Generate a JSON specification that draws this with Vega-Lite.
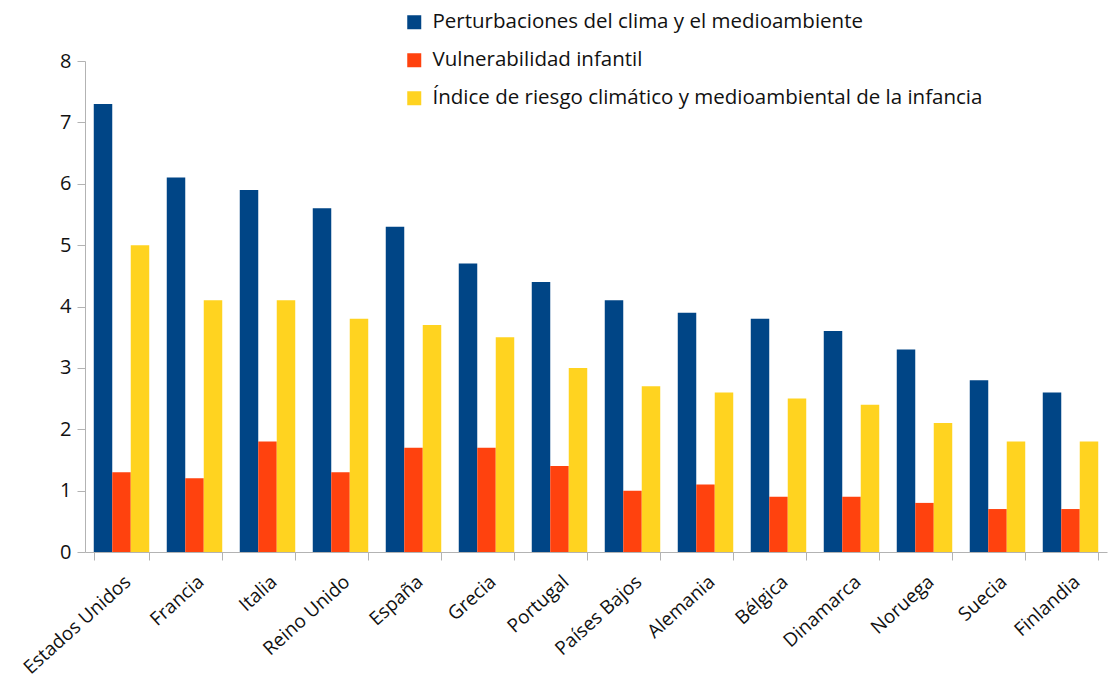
{
  "$schema": "https://vega.github.io/schema/vega-lite/v6.json",
  "width": 1022,
  "height": 491,
  "autosize": "none",
  "padding": {"left": 85, "top": 61, "right": 4, "bottom": 132},
  "background": "white",
  "config": {
    "font": "Open Sans",
    "view": {"stroke": null},
    "axis": {"grid": false, "domainColor": "#b3b3b3", "tickColor": "#b3b3b3", "labelColor": "#111", "labelFont": "Open Sans"}
  },
  "data": {
    "values": [
      {"pais": "Estados Unidos", "serie": "Perturbaciones del clima y el medioambiente", "valor": 7.3},
      {"pais": "Estados Unidos", "serie": "Vulnerabilidad infantil", "valor": 1.3},
      {"pais": "Estados Unidos", "serie": "Índice de riesgo climático y medioambiental de la infancia", "valor": 5.0},
      {"pais": "Francia", "serie": "Perturbaciones del clima y el medioambiente", "valor": 6.1},
      {"pais": "Francia", "serie": "Vulnerabilidad infantil", "valor": 1.2},
      {"pais": "Francia", "serie": "Índice de riesgo climático y medioambiental de la infancia", "valor": 4.1},
      {"pais": "Italia", "serie": "Perturbaciones del clima y el medioambiente", "valor": 5.9},
      {"pais": "Italia", "serie": "Vulnerabilidad infantil", "valor": 1.8},
      {"pais": "Italia", "serie": "Índice de riesgo climático y medioambiental de la infancia", "valor": 4.1},
      {"pais": "Reino Unido", "serie": "Perturbaciones del clima y el medioambiente", "valor": 5.6},
      {"pais": "Reino Unido", "serie": "Vulnerabilidad infantil", "valor": 1.3},
      {"pais": "Reino Unido", "serie": "Índice de riesgo climático y medioambiental de la infancia", "valor": 3.8},
      {"pais": "España", "serie": "Perturbaciones del clima y el medioambiente", "valor": 5.3},
      {"pais": "España", "serie": "Vulnerabilidad infantil", "valor": 1.7},
      {"pais": "España", "serie": "Índice de riesgo climático y medioambiental de la infancia", "valor": 3.7},
      {"pais": "Grecia", "serie": "Perturbaciones del clima y el medioambiente", "valor": 4.7},
      {"pais": "Grecia", "serie": "Vulnerabilidad infantil", "valor": 1.7},
      {"pais": "Grecia", "serie": "Índice de riesgo climático y medioambiental de la infancia", "valor": 3.5},
      {"pais": "Portugal", "serie": "Perturbaciones del clima y el medioambiente", "valor": 4.4},
      {"pais": "Portugal", "serie": "Vulnerabilidad infantil", "valor": 1.4},
      {"pais": "Portugal", "serie": "Índice de riesgo climático y medioambiental de la infancia", "valor": 3.0},
      {"pais": "Países Bajos", "serie": "Perturbaciones del clima y el medioambiente", "valor": 4.1},
      {"pais": "Países Bajos", "serie": "Vulnerabilidad infantil", "valor": 1.0},
      {"pais": "Países Bajos", "serie": "Índice de riesgo climático y medioambiental de la infancia", "valor": 2.7},
      {"pais": "Alemania", "serie": "Perturbaciones del clima y el medioambiente", "valor": 3.9},
      {"pais": "Alemania", "serie": "Vulnerabilidad infantil", "valor": 1.1},
      {"pais": "Alemania", "serie": "Índice de riesgo climático y medioambiental de la infancia", "valor": 2.6},
      {"pais": "Bélgica", "serie": "Perturbaciones del clima y el medioambiente", "valor": 3.8},
      {"pais": "Bélgica", "serie": "Vulnerabilidad infantil", "valor": 0.9},
      {"pais": "Bélgica", "serie": "Índice de riesgo climático y medioambiental de la infancia", "valor": 2.5},
      {"pais": "Dinamarca", "serie": "Perturbaciones del clima y el medioambiente", "valor": 3.6},
      {"pais": "Dinamarca", "serie": "Vulnerabilidad infantil", "valor": 0.9},
      {"pais": "Dinamarca", "serie": "Índice de riesgo climático y medioambiental de la infancia", "valor": 2.4},
      {"pais": "Noruega", "serie": "Perturbaciones del clima y el medioambiente", "valor": 3.3},
      {"pais": "Noruega", "serie": "Vulnerabilidad infantil", "valor": 0.8},
      {"pais": "Noruega", "serie": "Índice de riesgo climático y medioambiental de la infancia", "valor": 2.1},
      {"pais": "Suecia", "serie": "Perturbaciones del clima y el medioambiente", "valor": 2.8},
      {"pais": "Suecia", "serie": "Vulnerabilidad infantil", "valor": 0.7},
      {"pais": "Suecia", "serie": "Índice de riesgo climático y medioambiental de la infancia", "valor": 1.8},
      {"pais": "Finlandia", "serie": "Perturbaciones del clima y el medioambiente", "valor": 2.6},
      {"pais": "Finlandia", "serie": "Vulnerabilidad infantil", "valor": 0.7},
      {"pais": "Finlandia", "serie": "Índice de riesgo climático y medioambiental de la infancia", "valor": 1.8}
    ]
  },
  "mark": {"type": "bar"},
  "encoding": {
    "x": {
      "field": "pais", "type": "nominal", "sort": null, "title": null,
      "scale": {"paddingInner": 0.24, "paddingOuter": 0.12},
      "axis": {"labelAngle": -42, "labelFontSize": 19, "tickBand": "extent", "tickSize": 8, "labelPadding": 12}
    },
    "xOffset": {
      "field": "serie", "type": "nominal",
      "scale": {"domain": ["Perturbaciones del clima y el medioambiente", "Vulnerabilidad infantil", "Índice de riesgo climático y medioambiental de la infancia"], "paddingInner": 0, "paddingOuter": 0}
    },
    "y": {
      "field": "valor", "type": "quantitative", "title": null,
      "scale": {"domain": [0, 8], "nice": false},
      "axis": {"values": [0, 1, 2, 3, 4, 5, 6, 7, 8], "labelFontSize": 20, "tickSize": 8, "labelPadding": 6}
    },
    "color": {
      "field": "serie", "type": "nominal", "title": null,
      "scale": {"domain": ["Perturbaciones del clima y el medioambiente", "Vulnerabilidad infantil", "Índice de riesgo climático y medioambiental de la infancia"], "range": ["#004586", "#ff420e", "#ffd320"]},
      "legend": {"orient": "none", "legendX": 319, "legendY": -49, "direction": "vertical", "symbolType": "square", "symbolSize": 196, "labelFontSize": 20.5, "labelColor": "#111", "rowPadding": 17, "labelLimit": 800, "labelOffset": 8, "symbolStrokeWidth": 0}
    }
  }
}
